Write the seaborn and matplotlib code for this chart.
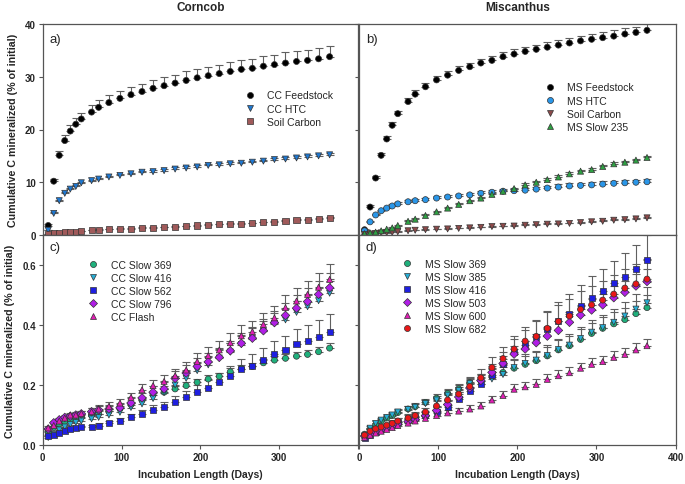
import matplotlib
matplotlib.use("Agg")
import matplotlib.pyplot as plt
import seaborn as sns
import numpy as np
import pandas as pd

# sampling days (same for every series)
days = [7, 14, 21, 28, 35, 42, 49, 62, 71, 84, 98, 112, 126, 140, 154, 168,
        182, 196, 210, 224, 238, 252, 266, 280, 294, 308, 322, 336, 350, 364]

# ---- a) Corncob
cc_feed = [1.8, 10.2, 15.1, 17.9, 19.7, 21.0, 22.0, 23.3, 24.2, 25.1, 25.9, 26.6, 27.2, 27.8, 28.3,
           28.8, 29.3, 29.8, 30.2, 30.6, 31.0, 31.4, 31.6, 32.0, 32.3, 32.6, 32.9, 33.1, 33.4, 33.8]
cc_feed_err = [0.2, 0.4, 0.9, 1.0, 1.1, 1.1, 1.2, 1.3, 1.3, 1.4, 1.4, 1.4, 1.5, 1.5, 1.6,
               1.6, 1.7, 1.7, 1.7, 1.7, 1.8, 1.8, 1.8, 1.9, 1.9, 2.0, 2.0, 2.0, 2.1, 2.1]
cc_htc = [0.9, 4.1, 6.5, 7.9, 8.7, 9.2, 9.9, 10.3, 10.6, 11.0, 11.3, 11.6, 11.9, 12.0, 12.2,
          12.5, 12.7, 12.9, 13.2, 13.3, 13.5, 13.6, 13.8, 14.0, 14.3, 14.4, 14.6, 14.8, 15.0, 15.2]
cc_htc_err = [0.1, 0.2, 0.2, 0.2, 0.2, 0.2, 0.2, 0.2, 0.2, 0.2, 0.2, 0.2, 0.3, 0.3, 0.3,
              0.3, 0.3, 0.3, 0.3, 0.3, 0.3, 0.3, 0.3, 0.3, 0.3, 0.3, 0.3, 0.3, 0.3, 0.3]
cc_soil = [0.1, 0.3, 0.4, 0.5, 0.55, 0.6, 0.75, 0.9, 0.95, 1.1, 1.15, 1.2, 1.35, 1.4, 1.5,
           1.6, 1.65, 1.8, 1.85, 2.0, 2.05, 2.15, 2.2, 2.4, 2.55, 2.65, 2.8, 2.9, 3.05, 3.2]
cc_soil_err = [0.1] * 15 + [0.15] * 15

# ---- b) Miscanthus
ms_feed = [1.0, 5.3, 10.8, 15.1, 18.2, 20.8, 23.0, 25.3, 26.7, 28.1, 29.4, 30.3, 31.2, 31.9, 32.6,
           33.1, 33.8, 34.3, 34.8, 35.2, 35.6, 36.0, 36.4, 36.8, 37.1, 37.4, 37.7, 38.1, 38.4, 38.8]
ms_feed_err = [0.1, 0.3, 0.4, 0.5, 0.5, 0.6, 0.6, 0.6, 0.7, 0.7, 0.7, 0.7, 0.8, 0.8, 0.8,
               0.8, 0.9, 0.9, 0.9, 0.9, 0.9, 1.0, 1.0, 1.0, 1.0, 1.0, 1.1, 1.1, 1.1, 1.2]
ms_htc = [0.8, 2.5, 3.8, 4.6, 5.1, 5.5, 5.9, 6.3, 6.5, 6.7, 7.0, 7.2, 7.4, 7.6, 7.9,
          8.1, 8.3, 8.4, 8.5, 8.7, 8.9, 9.1, 9.3, 9.4, 9.5, 9.65, 9.8, 9.9, 10.0, 10.1]
ms_htc_err = [0.1, 0.2, 0.2, 0.2, 0.2, 0.3, 0.3, 0.3, 0.3, 0.3, 0.3, 0.3, 0.3, 0.4, 0.4,
              0.4, 0.4, 0.4, 0.4, 0.4, 0.4, 0.5, 0.5, 0.5, 0.5, 0.5, 0.5, 0.5, 0.5, 0.5]
ms_soil = [0.1, 0.2, 0.3, 0.4, 0.45, 0.5, 0.6, 0.8, 0.9, 1.0, 1.1, 1.15, 1.25, 1.35, 1.45,
           1.6, 1.65, 1.7, 1.85, 1.95, 2.05, 2.1, 2.2, 2.35, 2.5, 2.6, 2.8, 2.9, 3.05, 3.25]
ms_soil_err = [0.1] * 15 + [0.15] * 15
ms_235 = [0.25, 0.4, 0.55, 0.8, 1.1, 1.35, 1.8, 2.6, 3.0, 3.7, 4.4, 5.1, 5.8, 6.5, 7.0,
          7.7, 8.3, 8.8, 9.5, 10.0, 10.5, 11.0, 11.6, 12.1, 12.4, 13.0, 13.5, 13.8, 14.2, 14.7]
ms_235_err = [0.1, 0.1, 0.1, 0.1, 0.1, 0.1, 0.1, 0.2, 0.2, 0.2, 0.2, 0.2, 0.2, 0.2, 0.2,
              0.2, 0.2, 0.2, 0.3, 0.3, 0.3, 0.3, 0.3, 0.3, 0.3, 0.3, 0.3, 0.3, 0.3, 0.3]

# ---- c) Corncob chars
cc_369 = [0.044, 0.058, 0.07, 0.078, 0.085, 0.09, 0.095, 0.1, 0.105, 0.112, 0.122, 0.135, 0.15, 0.168, 0.176,
          0.187, 0.198, 0.209, 0.22, 0.229, 0.244, 0.255, 0.262, 0.274, 0.283, 0.289, 0.296, 0.302, 0.311, 0.323]
cc_369_err = [0.004, 0.005, 0.005, 0.005, 0.006, 0.006, 0.006, 0.007, 0.007, 0.008, 0.008, 0.009, 0.009, 0.01, 0.01,
              0.011, 0.011, 0.012, 0.012, 0.012, 0.013, 0.013, 0.013, 0.014, 0.014, 0.014, 0.015, 0.015, 0.015, 0.016]
cc_416 = [0.025, 0.035, 0.05, 0.06, 0.068, 0.075, 0.08, 0.087, 0.092, 0.1, 0.109, 0.125, 0.137, 0.155, 0.175,
          0.2, 0.222, 0.248, 0.267, 0.29, 0.31, 0.335, 0.355, 0.38, 0.405, 0.417, 0.442, 0.461, 0.481, 0.506]
cc_416_err = [0.005, 0.006, 0.007, 0.008, 0.008, 0.009, 0.01, 0.011, 0.012, 0.013, 0.014, 0.016, 0.018, 0.02, 0.022,
              0.024, 0.025, 0.027, 0.028, 0.03, 0.031, 0.033, 0.034, 0.035, 0.036, 0.037, 0.038, 0.04, 0.041, 0.042]
cc_562 = [0.029, 0.033, 0.04, 0.048, 0.053, 0.056, 0.059, 0.061, 0.064, 0.072, 0.081, 0.092, 0.103, 0.118, 0.126,
          0.142, 0.159, 0.176, 0.19, 0.21, 0.23, 0.252, 0.263, 0.282, 0.303, 0.317, 0.337, 0.347, 0.361, 0.377]
cc_562_err = [0.003, 0.004, 0.004, 0.005, 0.005, 0.006, 0.006, 0.007, 0.008, 0.009, 0.01, 0.012, 0.014, 0.016, 0.018,
              0.02, 0.022, 0.025, 0.028, 0.03, 0.033, 0.036, 0.039, 0.042, 0.045, 0.048, 0.05, 0.053, 0.056, 0.06]
cc_796 = [0.053, 0.074, 0.084, 0.092, 0.096, 0.1, 0.104, 0.111, 0.117, 0.12, 0.124, 0.14, 0.157, 0.176, 0.187,
          0.222, 0.24, 0.262, 0.277, 0.292, 0.314, 0.339, 0.356, 0.381, 0.408, 0.432, 0.456, 0.478, 0.502, 0.524]
cc_796_err = [0.005, 0.006, 0.007, 0.008, 0.008, 0.009, 0.01, 0.011, 0.012, 0.013, 0.014, 0.016, 0.018, 0.02, 0.022,
              0.024, 0.026, 0.028, 0.03, 0.031, 0.033, 0.035, 0.036, 0.038, 0.04, 0.041, 0.043, 0.044, 0.046, 0.048]
cc_flash = [0.057, 0.065, 0.08, 0.09, 0.1, 0.1, 0.105, 0.111, 0.12, 0.129, 0.14, 0.159, 0.184, 0.198, 0.212,
            0.231, 0.25, 0.278, 0.298, 0.317, 0.341, 0.364, 0.378, 0.402, 0.424, 0.458, 0.48, 0.502, 0.526, 0.552]
cc_flash_err = [0.005, 0.006, 0.007, 0.008, 0.008, 0.009, 0.01, 0.011, 0.012, 0.013, 0.014, 0.016, 0.018, 0.02, 0.022,
                0.024, 0.026, 0.028, 0.03, 0.031, 0.033, 0.035, 0.036, 0.038, 0.04, 0.041, 0.043, 0.044, 0.046, 0.05]

# ---- d) Miscanthus chars
ms_369 = [0.036, 0.052, 0.066, 0.08, 0.09, 0.098, 0.108, 0.12, 0.128, 0.142, 0.156, 0.172, 0.187, 0.208, 0.215,
          0.228, 0.242, 0.256, 0.269, 0.281, 0.297, 0.317, 0.331, 0.352, 0.372, 0.389, 0.404, 0.418, 0.438, 0.458]
ms_369_err = [0.005, 0.006, 0.007, 0.008, 0.008, 0.009, 0.01, 0.011, 0.012, 0.013, 0.014, 0.016, 0.018, 0.02, 0.022,
              0.024, 0.025, 0.027, 0.028, 0.03, 0.031, 0.033, 0.034, 0.035, 0.036, 0.037, 0.038, 0.04, 0.041, 0.042]
ms_385 = [0.03, 0.056, 0.072, 0.083, 0.092, 0.1, 0.11, 0.118, 0.126, 0.138, 0.15, 0.166, 0.182, 0.205, 0.205,
          0.22, 0.235, 0.258, 0.272, 0.283, 0.298, 0.318, 0.333, 0.355, 0.376, 0.391, 0.409, 0.43, 0.453, 0.474]
ms_385_err = [0.005, 0.006, 0.007, 0.008, 0.008, 0.009, 0.01, 0.011, 0.012, 0.013, 0.014, 0.016, 0.018, 0.02, 0.022,
              0.024, 0.026, 0.028, 0.03, 0.032, 0.034, 0.036, 0.038, 0.04, 0.042, 0.044, 0.046, 0.048, 0.05, 0.052]
ms_416 = [0.025, 0.035, 0.045, 0.055, 0.062, 0.07, 0.078, 0.088, 0.094, 0.1, 0.111, 0.128, 0.152, 0.181, 0.205,
          0.235, 0.27, 0.309, 0.333, 0.361, 0.387, 0.413, 0.436, 0.463, 0.491, 0.513, 0.539, 0.561, 0.586, 0.617]
ms_416_err = [0.005, 0.006, 0.007, 0.008, 0.009, 0.01, 0.011, 0.012, 0.013, 0.015, 0.017, 0.02, 0.024, 0.028, 0.032,
              0.036, 0.04, 0.045, 0.05, 0.055, 0.06, 0.065, 0.068, 0.07, 0.072, 0.074, 0.076, 0.078, 0.08, 0.082]
ms_503 = [0.03, 0.036, 0.045, 0.052, 0.058, 0.064, 0.07, 0.078, 0.085, 0.098, 0.115, 0.135, 0.16, 0.19, 0.215,
          0.242, 0.272, 0.303, 0.32, 0.341, 0.363, 0.382, 0.409, 0.433, 0.45, 0.467, 0.491, 0.509, 0.53, 0.545]
ms_503_err = [0.004, 0.005, 0.005, 0.006, 0.006, 0.007, 0.008, 0.009, 0.01, 0.011, 0.012, 0.014, 0.016, 0.018, 0.02,
              0.022, 0.024, 0.026, 0.028, 0.03, 0.031, 0.033, 0.034, 0.035, 0.036, 0.037, 0.038, 0.039, 0.04, 0.041]
ms_600 = [0.025, 0.033, 0.04, 0.046, 0.052, 0.058, 0.065, 0.073, 0.08, 0.089, 0.098, 0.107, 0.113, 0.12, 0.13,
          0.15, 0.165, 0.186, 0.194, 0.202, 0.219, 0.231, 0.241, 0.256, 0.269, 0.278, 0.292, 0.302, 0.317, 0.331]
ms_600_err = [0.003, 0.004, 0.004, 0.005, 0.005, 0.006, 0.006, 0.007, 0.008, 0.008, 0.009, 0.01, 0.011, 0.012, 0.013,
              0.014, 0.015, 0.016, 0.017, 0.017, 0.018, 0.018, 0.019, 0.019, 0.02, 0.02, 0.021, 0.021, 0.022, 0.022]
ms_682 = [0.033, 0.046, 0.054, 0.06, 0.066, 0.072, 0.08, 0.09, 0.098, 0.11, 0.13, 0.15, 0.17, 0.195, 0.224,
          0.258, 0.288, 0.32, 0.346, 0.362, 0.389, 0.412, 0.43, 0.452, 0.467, 0.483, 0.503, 0.523, 0.537, 0.553]
ms_682_err = [0.005, 0.006, 0.007, 0.008, 0.009, 0.01, 0.011, 0.012, 0.013, 0.015, 0.017, 0.02, 0.023, 0.026, 0.03,
              0.034, 0.038, 0.042, 0.046, 0.05, 0.053, 0.056, 0.058, 0.06, 0.062, 0.063, 0.064, 0.065, 0.066, 0.067]

panels = [
    # (label, title, ylim, series list: (name, values, err, marker, color), legend anchor)
    ("a)", "Corncob", 40, [
        ("CC Feedstock", cc_feed, cc_feed_err, "o", "#000000"),
        ("CC HTC", cc_htc, cc_htc_err, "v", "#1f78d1"),
        ("Soil Carbon", cc_soil, cc_soil_err, "s", "#a05a5a"),
    ], (0.64, 0.685)),
    ("b)", "Miscanthus", 40, [
        ("MS Feedstock", ms_feed, ms_feed_err, "o", "#000000"),
        ("MS HTC", ms_htc, ms_htc_err, "o", "#2a96e8"),
        ("Soil Carbon", ms_soil, ms_soil_err, "v", "#8c4a4a"),
        ("MS Slow 235", ms_235, ms_235_err, "^", "#2ea043"),
    ], (0.586, 0.723)),
    ("c)", None, 0.7, [
        ("CC Slow 369", cc_369, cc_369_err, "o", "#1fb07c"),
        ("CC Slow 416", cc_416, cc_416_err, "v", "#26aed6"),
        ("CC Slow 562", cc_562, cc_562_err, "s", "#1f1fe0"),
        ("CC Slow 796", cc_796, cc_796_err, "D", "#b01ee6"),
        ("CC Flash", cc_flash, cc_flash_err, "^", "#e01eb4"),
    ], (0.144, 0.883)),
    ("d)", None, 0.7, [
        ("MS Slow 369", ms_369, ms_369_err, "o", "#1fb07c"),
        ("MS Slow 385", ms_385, ms_385_err, "v", "#26aed6"),
        ("MS Slow 416", ms_416, ms_416_err, "s", "#1f1fe0"),
        ("MS Slow 503", ms_503, ms_503_err, "D", "#b01ee6"),
        ("MS Slow 600", ms_600, ms_600_err, "^", "#e01eb4"),
        ("MS Slow 682", ms_682, ms_682_err, "o", "#e81818"),
    ], (0.136, 0.888)),
]

sns.set_style("ticks")
plt.rcParams['font.family'] = ['Liberation Sans', 'DejaVu Sans']

fig = plt.figure(figsize=(6.85, 4.85), dpi=100)
W, H = 685.0, 485.0
rects = [
    (42.7, 25, 358, 236),
    (359, 25, 675.5, 236),
    (42.7, 236, 358, 446),
    (359, 236, 675.5, 446),
]
axes = []
for (x0, y0, x1, y1) in rects:
    axes.append(fig.add_axes([x0 / W, 1 - y1 / H, (x1 - x0) / W, (y1 - y0) / H]))

for i, (ax, (lab, title, ymax, series, legpos)) in enumerate(zip(axes, panels)):
    rows = []
    for name, vals, err, mk, col in series:
        for d, v in zip(days, vals):
            rows.append({"day": d, "value": v, "series": name})
        # upper error bars only
        ax.errorbar(days, vals, yerr=[np.zeros(len(err)), err], fmt="none",
                    ecolor="#606060", elinewidth=0.8, capsize=2.6, capthick=0.8, zorder=1.5)
    df = pd.DataFrame(rows)
    names = [s[0] for s in series]
    sns.scatterplot(data=df, x="day", y="value", hue="series", style="series",
                    hue_order=names, style_order=names,
                    palette={s[0]: s[4] for s in series},
                    markers={s[0]: s[3] for s in series},
                    s=19, edgecolor="#333333", linewidth=0.5, ax=ax, zorder=2)
    sns.move_legend(ax, "upper left", bbox_to_anchor=legpos, frameon=False, title=None,
                    fontsize=7.5, borderaxespad=0, borderpad=0, handlelength=1.0,
                    handletextpad=1.2, labelspacing=0.3)

    ax.set_xlim(0, 400)
    ax.set_ylim(0, ymax)
    ax.set_xticks([0, 100, 200, 300, 400])
    if ymax == 40:
        ax.set_yticks([0, 10, 20, 30, 40])
    else:
        ax.set_yticks([0.0, 0.2, 0.4, 0.6])
        ax.set_yticklabels(["0.0", "0.2", "0.4", "0.6"])
    ax.set_xlabel("")
    ax.set_ylabel("")
    ax.tick_params(direction="out", length=3, width=0.8, color="#555555",
                   labelsize=7, pad=2)
    for sp in ax.spines.values():
        sp.set_visible(True)
        sp.set_color("#555555")
        sp.set_linewidth(0.9)

    if i < 2:
        ax.tick_params(labelbottom=False)
        ax.set_title(title, fontsize=8.5, fontweight="bold", pad=10)
    else:
        ax.set_xlabel("Incubation Length (Days)", fontsize=7.5, fontweight="bold", labelpad=5)
    if i % 2 == 1:
        ax.tick_params(labelleft=False)
    else:
        ax.set_ylabel("Cumulative C mineralized (% of initial)", fontsize=7.7,
                      fontweight="bold", labelpad=5)
    if i == 2:
        ax.set_xticklabels(["0", "100", "200", "300", ""])

    for t in ax.get_xticklabels() + ax.get_yticklabels():
        t.set_fontweight("bold")

    ax.text(0.022, 0.93 if i < 2 else 0.945, lab, transform=ax.transAxes,
            fontsize=9.5, ha="left", va="center")

fig.savefig("out.png", dpi=100)
plt.close()
